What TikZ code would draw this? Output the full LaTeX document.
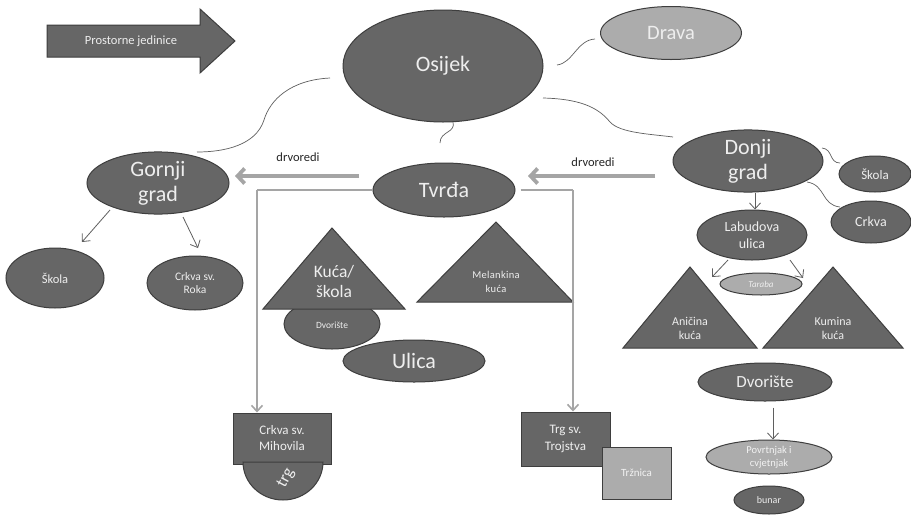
\documentclass[tikz,border=0pt]{standalone}
\usepackage{fontspec}
\setmainfont{Carlito}
\usetikzlibrary{shapes.geometric,arrows.meta}
\definecolor{dk}{RGB}{102,102,102}
\definecolor{dkb}{RGB}{62,62,62}
\definecolor{lt}{RGB}{172,172,172}
\definecolor{txt}{RGB}{238,238,238}
\definecolor{gline}{RGB}{165,165,165}
\definecolor{cline}{RGB}{95,95,95}
\newcommand{\fz}[2]{\fontsize{#1}{#2}\selectfont}
\begin{document}
\begin{tikzpicture}[x=1pt,y=-1pt,
  el/.style={ellipse, draw=dkb, line width=1pt, fill=dk, text=txt, inner sep=0pt, align=center},
  ell/.style={el, fill=lt},
  bx/.style={rectangle, draw=dkb, line width=1pt, fill=dk, text=txt, inner sep=0pt, align=center},
  tri/.style={draw=dkb, line width=1pt, fill=dk},
  lbl/.style={text=txt, align=center, inner sep=0pt},
  curv/.style={draw=cline, line width=0.7pt},
  thin/.style={draw=cline, line width=0.8pt, -{Straight Barb[length=6pt,width=11pt]}},
  fat/.style={draw=gline, line width=3.8pt, -{Straight Barb[length=7pt,width=15pt]}},
  tl/.style={draw=gline, line width=1.6pt, -{Straight Barb[length=6pt,width=11pt]}}]
\useasboundingbox[fill=white] (0,0) rectangle (911,515);

% big arrow
\path[tri] (47,25) -- (200,25) -- (200,9) -- (235,41) -- (200,73) -- (200,57) -- (47,57) -- cycle;
\node[lbl, font=\fz{12.5}{15}] (pj) at (131,41) {Prostorne jedinice};

% main ellipses
\node[el, minimum width=200pt, minimum height=112pt, font=\fz{22}{25}] (osijek) at (443,66) {Osijek};
\node[ell, minimum width=141pt, minimum height=53pt, font=\fz{20.5}{24}] (drava) at (671,33) {Drava};
\node[el, minimum width=142pt, minimum height=54pt, font=\fz{22}{25}] (gornji) at (158,183) {Gornji\\grad};
\node[el, minimum width=142pt, minimum height=54pt, font=\fz{22}{25}] (tvrda) at (444,190) {Tvrđa};
\node[el, minimum width=150pt, minimum height=56pt, font=\fz{22}{25}] (donji) at (748,161) {Donji\\grad};

% curves from Osijek
\coordinate (c1a) at (557,65); \coordinate (c1b) at (595,39);
\draw[curv] (c1a) .. controls (573,63) and (577,40) .. (c1b);
\coordinate (c2a) at (543,98); \coordinate (c2m) at (610,122); \coordinate (c2b) at (673,137);
\draw[curv] (c2a) .. controls (585,99) and (600,110) .. (c2m) .. controls (620,133) and (650,134) .. (c2b);
\coordinate (c3a) at (330,78); \coordinate (c3m) at (264,120); \coordinate (c3b) at (197,152);
\draw[curv] (c3a) .. controls (290,80) and (270,100) .. (c3m) .. controls (256,145) and (225,152) .. (c3b);
\coordinate (c4a) at (453,122); \coordinate (c4b) at (440,143);
\draw[curv] (c4a) .. controls (456,133) and (440,131) .. (c4b);

% drvoredi arrows
\node[font=\fz{12.5}{14}, text=black!85] (dv1) at (298,157) {drvoredi};
\node[font=\fz{12.5}{14}, text=black!85] (dv2) at (593,162) {drvoredi};
\coordinate (f1a) at (359,176); \coordinate (f1b) at (235,176);
\coordinate (f2a) at (655,176); \coordinate (f2b) at (528,176);
\draw[fat] (f1a) -- (f1b);
\draw[fat] (f2a) -- (f2b);

% Gornji grad children
\node[el, minimum width=98pt, minimum height=60pt, font=\fz{12.5}{15}] (skola1) at (55,278) {Škola};
\node[el, minimum width=96pt, minimum height=54pt, font=\fz{11.5}{13}] (roka) at (195,283) {Crkva sv.\\Roka};
\coordinate (g1a) at (110,210); \coordinate (g1b) at (82,242);
\coordinate (g2a) at (183,217); \coordinate (g2b) at (198,248);
\draw[thin] (g1a) -- (g1b);
\draw[thin] (g2a) -- (g2b);

% Tvrda children
\node[el, minimum width=96pt, minimum height=50pt, font=\fz{9.5}{11}, text depth=0pt] (dvor1) at (332,324) {\raisebox{-2pt}{Dvorište}};
\path[tri] (263,309) -- (405,309) -- (332,228) -- cycle;
\node[lbl, font=\fz{17.5}{20}] (kuca) at (334,281) {Kuća/\\škola};
\path[tri] (417,302) -- (573,302) -- (496,222) -- cycle;
\node[lbl, font=\fz{10.5}{14}] (melan) at (496,282) {M\kern0.3pt e\kern0.3pt l\kern0.3pt a\kern0.3pt n\kern0.3pt k\kern0.3pt i\kern0.3pt n\kern0.3pt a\\k\kern0.3pt u\kern0.3pt ć\kern0.3pt a};
\node[el, minimum width=142pt, minimum height=42pt, font=\fz{22}{26}] (ulica) at (414,361) {Ulica};

\node[bx, minimum width=98pt, minimum height=51pt, font=\fz{13}{16}] (mihovil) at (282,438.5) {Crkva sv.\\Mihovila};
\path[tri] (243,462) arc[start angle=180, end angle=0, x radius=40, y radius=38] -- cycle;
\node[lbl, font=\fz{17}{20}, rotate=62, inner sep=0pt] (trg) at (286,478) {trg};

\node[bx, minimum width=89pt, minimum height=54pt, font=\fz{13}{17}] (trojstvo) at (565.5,439) {Trg sv.\\Trojstva};
\node[bx, fill=lt, minimum width=69pt, minimum height=52pt, font=\fz{11}{13}, text=white!95!black] (trznica) at (636.5,473) {Tržnica};

\draw[tl, -] (tvrda.west) -- (257,190);
\draw[tl] (257,190) -- ([xshift=-25pt]mihovil.north);
\draw[tl, -] ([xshift=5pt]tvrda.east) -- (573,190);
\draw[tl] (573,190) -- ([xshift=7.5pt]trojstvo.north);

% Donji grad children
\node[el, minimum width=72pt, minimum height=36pt, font=\fz{13}{15}] (skola2) at (875,174) {Škola};
\node[el, minimum width=80pt, minimum height=42pt, font=\fz{14}{16}] (crkva2) at (871,222) {Crkva};
\coordinate (d1a) at (822,148); \coordinate (d1b) at (840,163);
\draw[curv] (d1a) .. controls (833,149) and (829,163) .. (d1b);
\coordinate (d2a) at (807,182); \coordinate (d2b) at (840,207);
\draw[curv] (d2a) .. controls (826,185) and (821,205) .. (d2b);

\node[el, minimum width=110pt, minimum height=50pt, font=\fz{14}{17}] (labud) at (752,235) {Labudova\\ulica};
\draw[thin] ([xshift=7pt]donji.south) -- ([xshift=3pt]labud.north);
\node[ell, minimum width=82pt, minimum height=22pt, font=\fz{9}{11}\itshape] (taraba) at (761,284) {Taraba};

\path[tri] (623,348) -- (757,348) -- (690,267) -- cycle;
\node[lbl, font=\fz{12}{14}] (anic) at (690,328) {Aničina\\kuća};
\path[tri] (763,348) -- (903,348) -- (833,267) -- cycle;
\node[lbl, font=\fz{12}{14}] (kumin) at (833,328) {Kumina\\kuća};

\coordinate (l1a) at (728,260); \coordinate (l1b) at (712,277);
\coordinate (l2a) at (790,260); \coordinate (l2b) at (803,278);
\draw[thin] (l1a) -- (l1b);
\draw[thin] (l2a) -- (l2b);

\node[el, minimum width=134pt, minimum height=38pt, font=\fz{17}{20}] (dvor2) at (765,382) {Dvorište};
\node[ell, minimum width=126pt, minimum height=34pt, font=\fz{10.5}{13}, text=white!95!black] (povrt) at (769,457) {Povrtnjak i\\cvjetnjak};
\draw[thin] ([xshift=8pt]dvor2.south) ++(0,6) -- ([xshift=4pt]povrt.north);
\node[el, minimum width=70pt, minimum height=28pt, font=\fz{10}{12}] (bunar) at (769,500) {bunar};
\end{tikzpicture}
\end{document}
